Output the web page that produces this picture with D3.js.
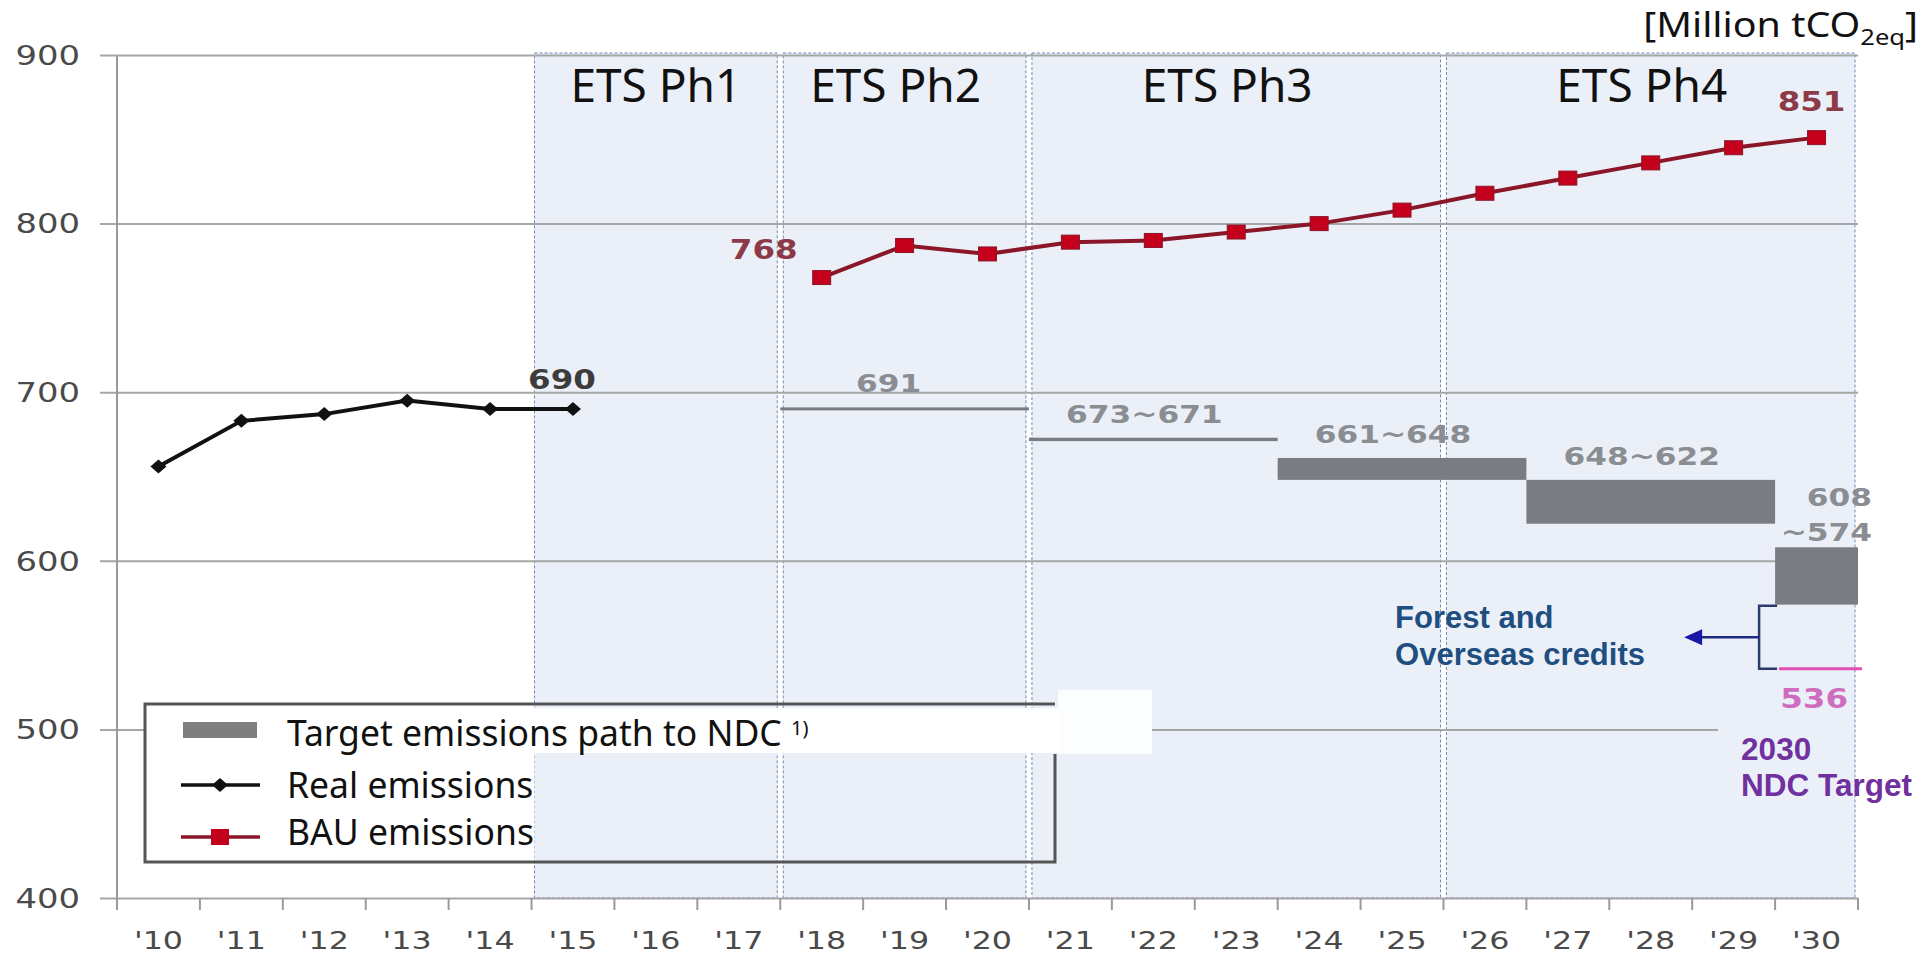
<!DOCTYPE html>
<html>
<head>
<meta charset="utf-8">
<script src="https://cdn.jsdelivr.net/npm/d3@7"></script>
<style>
  html, body { margin: 0; padding: 0; background: #fff; }
  svg { display: block; }
</style>
</head>
<body>
<div class="chart"></div>
<script>
// Data
const years = ["'10", "'11", "'12", "'13", "'14", "'15", "'16", "'17", "'18", "'19", "'20",
               "'21", "'22", "'23", "'24", "'25", "'26", "'27", "'28", "'29", "'30"];
const yTicks = [400, 500, 600, 700, 800, 900];

const realYears = ["'10", "'11", "'12", "'13", "'14", "'15"];
const realValues = [656, 683, 687, 695, 690, 690];

const bauYears = ["'18", "'19", "'20", "'21", "'22", "'23", "'24", "'25", "'26", "'27", "'28", "'29", "'30"];
const bauValues = [768, 787, 782, 789, 790, 795, 800, 808, 818, 827, 836, 845, 851];

const phaseNames = ['ETS Ph1', 'ETS Ph2', 'ETS Ph3', 'ETS Ph4'];
const phaseStart = ["'15", "'18", "'21", "'26"];
const phaseEnd = ["'17", "'20", "'25", "'30"];

const targetStart = ["'18", "'21", "'24", "'27", "'30"];
const targetEnd = ["'20", "'23", "'26", "'29", "'30"];
const targetHigh = [691, 673, 661, 648, 608];
const targetLow = [691, 671, 648, 622, 574];
const targetLabels = ['691', '673~671', '661~648', '648~622', '608'];

const ndcTarget = 536;

// Layout
const width = 1932, height = 955;
const plotL = 117, plotR = 1858, plotT = 55, plotB = 898;
const numFont = 'DejaVu Sans, Verdana, sans-serif';
const txtFont = 'Noto Sans, Open Sans, sans-serif';
const boldFont = 'Liberation Sans, Arial, sans-serif';

const svg = d3.select('.chart')
    .append('svg')
    .attr('width', width)
    .attr('height', height);

const x = d3.scaleBand().domain(years).range([plotL, plotR]);
const y = d3.scaleLinear().domain([400, 900]).range([plotB, plotT]);
const bw = x.bandwidth();
const cx = d => x(d) + bw / 2;

// stretched numbers, like the original picture
function numText(g, str, px, py, opts) {
    return g.append('text')
        .attr('transform', `translate(${px},${py}) scale(1.25,1)`)
        .attr('font-family', numFont)
        .attr('font-size', opts.size || 26)
        .attr('font-weight', opts.weight || 'bold')
        .attr('fill', opts.color || '#888')
        .attr('text-anchor', opts.anchor || 'middle')
        .text(str);
}

// Phase boxes
const phases = svg.append('g');
phaseNames.forEach((name, i) => {
    const x0 = x(phaseStart[i]) + 3;
    const x1 = x(phaseEnd[i]) + bw - 3;
    phases.append('rect')
        .attr('x', x0).attr('y', plotT - 2)
        .attr('width', x1 - x0).attr('height', plotB - plotT + 2)
        .attr('fill', '#ebf0f8')
        .attr('stroke', '#6f8ab8')
        .attr('stroke-width', 1)
        .attr('stroke-dasharray', '3,2');
    phases.append('text')
        .attr('x', (x0 + x1) / 2 - (i === 0 ? 0 : 9))
        .attr('y', 102)
        .attr('text-anchor', 'middle')
        .attr('font-family', txtFont)
        .attr('font-size', 46)
        .attr('fill', '#111')
        .text(name);
});

// Y axis with gridlines
const yAxis = svg.append('g')
    .attr('transform', `translate(100,0)`)
    .call(d3.axisLeft(y).tickValues(yTicks).tickSize(-(plotR - 100)).tickPadding(20));
yAxis.select('.domain').remove();
yAxis.selectAll('line')
    .attr('stroke', '#a6a6a6')
    .attr('stroke-width', 2)
    .filter(d => d === 500)
    .attr('x2', 1718 - 100);
yAxis.selectAll('text')
    .attr('x', -20 / 1.3)
    .attr('dy', '0.36em')
    .attr('transform', 'scale(1.3,1)')
    .attr('font-family', numFont)
    .attr('font-size', 26)
    .attr('fill', '#4a4a4a');

svg.append('line')
    .attr('x1', plotL).attr('x2', plotL)
    .attr('y1', plotT).attr('y2', plotB)
    .attr('stroke', '#9a9a9a').attr('stroke-width', 2);

// X axis
const xAxis = svg.append('g')
    .attr('transform', `translate(0,${plotB})`)
    .call(d3.axisBottom(x).tickSize(0).tickPadding(0));
xAxis.select('.domain').remove();
xAxis.selectAll('text')
    .attr('y', 51)
    .attr('dy', 0)
    .attr('transform', 'scale(1.27,1)')
    .attr('font-family', numFont)
    .attr('font-size', 25)
    .attr('fill', '#4a4a4a');

svg.append('g')
    .selectAll('line')
    .data(d3.range(years.length + 1))
    .join('line')
    .attr('x1', i => plotL + i * x.step())
    .attr('x2', i => plotL + i * x.step())
    .attr('y1', plotB).attr('y2', plotB + 12)
    .attr('stroke', '#9a9a9a').attr('stroke-width', 2);

// Target emissions path
const target = svg.append('g');
targetStart.forEach((s, i) => {
    const x0 = x(s);
    const x1 = x(targetEnd[i]) + bw;
    const y0 = y(targetHigh[i]);
    const h = Math.max(3, y(targetLow[i]) - y0);
    target.append('rect')
        .attr('x', x0).attr('y', y0)
        .attr('width', x1 - x0).attr('height', h)
        .attr('fill', '#797d83');
    if (i < targetStart.length - 1) {
        const shift = i === 0 ? 16 : 9;
        numText(target, targetLabels[i], (x0 + x1) / 2 - shift, y0 - 15, {color: '#8a8d92', size: 25});
    } else {
        numText(target, targetLabels[i], x1 + 14, y0 - 41, {color: '#8a8d92', size: 25, anchor: 'end'});
        numText(target, '~' + targetLow[i], x1 + 14, y0 - 6, {color: '#8a8d92', size: 25, anchor: 'end'});
    }
});

// Real emissions
const line = d3.line().x(d => d[0]).y(d => d[1]);
const realPts = realYears.map((d, i) => [cx(d), y(realValues[i])]);
svg.append('path')
    .attr('d', line(realPts))
    .attr('fill', 'none')
    .attr('stroke', '#111')
    .attr('stroke-width', 4);
svg.append('g')
    .selectAll('path')
    .data(realPts)
    .join('path')
    .attr('d', d => `M${d[0] - 8},${d[1]} L${d[0]},${d[1] - 7} L${d[0] + 8},${d[1]} L${d[0]},${d[1] + 7}Z`)
    .attr('fill', '#111');

// BAU emissions
const bauPts = bauYears.map((d, i) => [cx(d), y(bauValues[i])]);
svg.append('path')
    .attr('d', line(bauPts))
    .attr('fill', 'none')
    .attr('stroke', '#8a1628')
    .attr('stroke-width', 4);
svg.append('g')
    .selectAll('rect')
    .data(bauPts)
    .join('rect')
    .attr('x', d => d[0] - 9).attr('y', d => d[1] - 7)
    .attr('width', 18).attr('height', 14)
    .attr('fill', '#c4001c')
    .attr('stroke', '#8a1628')
    .attr('stroke-width', 1);

// value labels
numText(svg, '690', cx("'15") - 11, y(690) - 20, {color: '#3c3c3c'});
numText(svg, '768', cx("'18") - 24, y(768) - 19, {color: '#8c3a48', anchor: 'end'});
numText(svg, '851', cx("'30") - 5, y(851) - 27, {color: '#8c3a48'});

// NDC target and credits bracket
const x30 = x("'30");
svg.append('line')
    .attr('x1', x30 + 4).attr('x2', plotR + 4)
    .attr('y1', y(ndcTarget)).attr('y2', y(ndcTarget))
    .attr('stroke', '#e04fb4').attr('stroke-width', 3);
numText(svg, String(ndcTarget), plotR - 10, y(ndcTarget) + 39, {color: '#cf6cc0', anchor: 'end'});

const bx = x30 - 16;
const yTop = y(targetLow[4]) + 1, yBot = y(ndcTarget);
svg.append('path')
    .attr('d', `M${x30 + 2},${yTop} H${bx} V${yBot} H${x30 + 2}`)
    .attr('fill', 'none')
    .attr('stroke', '#2c3a6a')
    .attr('stroke-width', 2.5);
svg.append('line')
    .attr('x1', bx).attr('x2', bx - 60)
    .attr('y1', (yTop + yBot) / 2).attr('y2', (yTop + yBot) / 2)
    .attr('stroke', '#1d2a80').attr('stroke-width', 2.5);
svg.append('path')
    .attr('d', `M${bx - 75},${(yTop + yBot) / 2} l18,-8 l0,16 Z`)
    .attr('fill', '#1717a8');

const creditLines = ['Forest and', 'Overseas credits'];
creditLines.forEach((t, i) => {
    svg.append('text')
        .attr('x', bx - 364).attr('y', yTop + 22 + i * 37)
        .attr('font-family', boldFont).attr('font-size', 31).attr('font-weight', 'bold')
        .attr('fill', '#1f4e80')
        .text(t);
});

const ndcLines = ['2030', 'NDC Target'];
ndcLines.forEach((t, i) => {
    svg.append('text')
        .attr('x', bx - 18).attr('y', 760 + i * 36)
        .attr('font-family', boldFont).attr('font-size', 31.5).attr('font-weight', 'bold')
        .attr('fill', '#7030a0')
        .text(t);
});

// Legend
const lg = svg.append('g');
lg.append('rect')
    .attr('x', 145).attr('y', 704).attr('width', x("'15") + 3 - 145).attr('height', 158)
    .attr('fill', '#fff');
lg.append('rect')
    .attr('x', 266).attr('y', 708).attr('width', 1058 - 266).attr('height', 45)
    .attr('fill', '#fff');
lg.append('rect')
    .attr('x', 1058).attr('y', 690).attr('width', 94).attr('height', 64)
    .attr('fill', '#fcfdfe');
lg.append('path')
    .attr('d', 'M1055,754 V862 H145 V704 H1055')
    .attr('fill', 'none')
    .attr('stroke', '#555')
    .attr('stroke-width', 3);

lg.append('rect')
    .attr('x', 183).attr('y', 722).attr('width', 74).attr('height', 16)
    .attr('fill', '#7f7f7f');
lg.append('line')
    .attr('x1', 181).attr('x2', 260).attr('y1', 785).attr('y2', 785)
    .attr('stroke', '#111').attr('stroke-width', 3.5);
lg.append('path')
    .attr('d', 'M212,785 L220,778 L228,785 L220,792 Z')
    .attr('fill', '#111');
lg.append('line')
    .attr('x1', 181).attr('x2', 260).attr('y1', 837).attr('y2', 837)
    .attr('stroke', '#8a1628').attr('stroke-width', 3.5);
lg.append('rect')
    .attr('x', 211).attr('y', 829).attr('width', 18).attr('height', 16)
    .attr('fill', '#c4001c');

const legendText = lg.append('text')
    .attr('x', 287).attr('y', 746)
    .attr('font-family', txtFont).attr('font-size', 35.5).attr('fill', '#111');
legendText.append('tspan').text('Target emissions path to NDC ');
legendText.append('tspan').attr('font-size', 20).attr('dy', -11).text('1)');
lg.append('text')
    .attr('x', 287).attr('y', 798)
    .attr('font-family', txtFont).attr('font-size', 35.5).attr('fill', '#111')
    .text('Real emissions');
lg.append('text')
    .attr('x', 287).attr('y', 845)
    .attr('font-family', txtFont).attr('font-size', 35.5).attr('fill', '#111')
    .text('BAU emissions');

// Unit
const unit = svg.append('text')
    .attr('transform', 'translate(1918,37) scale(1.16,1)')
    .attr('text-anchor', 'end')
    .attr('font-family', txtFont).attr('font-size', 34).attr('fill', '#111');
unit.append('tspan').text('[Million tCO');
unit.append('tspan').attr('font-size', 22).attr('dy', 8).text('2eq');
unit.append('tspan').attr('dy', -8).text(']');
</script>
</body>
</html>
